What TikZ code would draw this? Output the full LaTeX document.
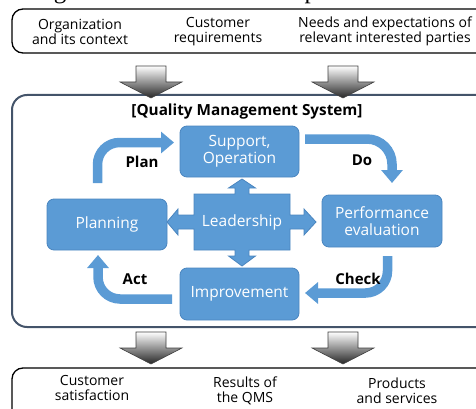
\documentclass[tikz,border=0pt]{standalone}
\usepackage{fontspec}
\setmainfont{Open Sans}
\newfontfamily\serifpart{Liberation Serif}
\usetikzlibrary{arrows.meta}
\definecolor{qblue}{HTML}{5B9BD5}
\definecolor{qedge}{HTML}{4A85BF}
\definecolor{qframe}{HTML}{44546A}
\tikzset{
  bluebox/.style={fill=qblue, draw=qedge, line width=0.8pt, rounded corners=7pt,
    text=white, font=\fontsize{15.5}{17}\selectfont, align=center, inner sep=0pt},
  flowarrow/.style={draw=qblue, line width=9.5pt, -{Triangle[width=21pt,length=13pt]}, rounded corners=22pt},
  plaintext/.style={align=center, inner sep=0pt, font=\fontsize{14}{15}\selectfont},
  phase/.style={inner sep=0pt, font=\bfseries\fontsize{15}{16}\selectfont},
  outerbox/.style={draw=black, line width=1.3pt, rounded corners=11pt, inner sep=0pt},
  grayarrow/.pic={\path[draw=black!75, line width=0.6pt, top color=white, bottom color=black!85]
    (-15,0) -- (15,0) -- (15,16) -- (31,16) -- (0,32) -- (-31,16) -- (-15,16) -- cycle;}
}
\begin{document}
\begin{tikzpicture}[x=1pt,y=-1pt]
\useasboundingbox (0,0) rectangle (476,409);
% cut-off caption line at the top
\node[anchor=base east, inner sep=0pt, font=\serifpart\fontsize{25}{25}\selectfont] (cap) at (472,-1.5) {regulations for nuclear nonproliferation and};
% outer boxes
\node[outerbox, minimum width=480pt, minimum height=44pt] (inbox) at (252,31) {};
\node[draw=qframe, line width=2pt, rounded corners=15pt, minimum width=480pt, minimum height=232pt, inner sep=0pt] (qms) at (252,211) {};
\node[outerbox, minimum width=480pt, minimum height=72pt] (outbox) at (252,404) {};
% input texts
\node[plaintext] (ctx) at (80,31.5) {Organization\\and its context};
\node[plaintext] (req) at (218,31.5) {Customer\\requirements};
\node[plaintext] (needs) at (385,31.5) {Needs and expectations of\\relevant interested parties};
% output texts
\node[plaintext] (sat) at (92,388) {Customer\\satisfaction};
\node[plaintext] (res) at (245,390.5) {Results of\\the QMS};
\node[plaintext] (prod) at (397,390.5) {Products\\and services};
% gray arrows
\pic (gin1) at (151,66) {grayarrow};
\pic (gin2) at (343,66) {grayarrow};
\pic (gout1) at (151,332) {grayarrow};
\pic (gout2) at (343,332) {grayarrow};
% title
\node[inner sep=0pt, font=\bfseries\fontsize{15.3}{17}\selectfont] (title) at (247,112) {[Quality Management System]};
% leadership shape
\path[fill=qblue, draw=qedge, line width=0.8pt]
 (194,194) -- (235,194) -- (235,188) -- (228.5,188) -- (242,179) -- (255.5,188) -- (249,188) -- (249,194)
 -- (290,194) -- (290,215) -- (304,215) -- (304,209) -- (316,222) -- (304,235) -- (304,229) -- (290,229)
 -- (290,250) -- (249,250) -- (249,256) -- (255.5,256) -- (242,266) -- (228.5,256) -- (235,256) -- (235,250)
 -- (194,250) -- (194,229) -- (178,229) -- (178,235) -- (167,222) -- (178,209) -- (178,215) -- (194,215) -- cycle;
\node[text=white, inner sep=0pt, font=\fontsize{15.5}{17}\selectfont] (lead) at (242,222) {Leadership};
% process boxes
\node[bluebox, minimum width=119pt, minimum height=51pt] (sup) at (239.5,151.5) {Support,\\Operation};
\node[bluebox, minimum width=120pt, minimum height=51pt] (plan) at (107,224.5) {Planning};
\node[bluebox, minimum width=120pt, minimum height=52pt] (perf) at (382,221) {Performance\\evaluation};
\node[bluebox, minimum width=119pt, minimum height=52pt] (impr) at (239.5,294) {Improvement};
% PDCA arrows
\coordinate (pa) at (97.5,183);
\coordinate (pb) at (174,142.5);
\coordinate (da) at (305,139);
\coordinate (db) at (392,183);
\coordinate (ca) at (387.5,256);
\coordinate (cb) at (305,293);
\coordinate (aa) at (172,299);
\coordinate (ab) at (98,255);
\draw[flowarrow] (pa) |- (pb);
\draw[flowarrow, rounded corners=25pt] (da) -| (db);
\draw[flowarrow] (ca) |- (cb);
\draw[flowarrow] (aa) -| (ab);
% phase labels
\node[phase] (lplan) at (142,162) {Plan};
\node[phase] (ldo) at (362,160) {Do};
\node[phase] (lcheck) at (358,279) {Check};
\node[phase] (lact) at (135,279) {Act};
\end{tikzpicture}
\end{document}
